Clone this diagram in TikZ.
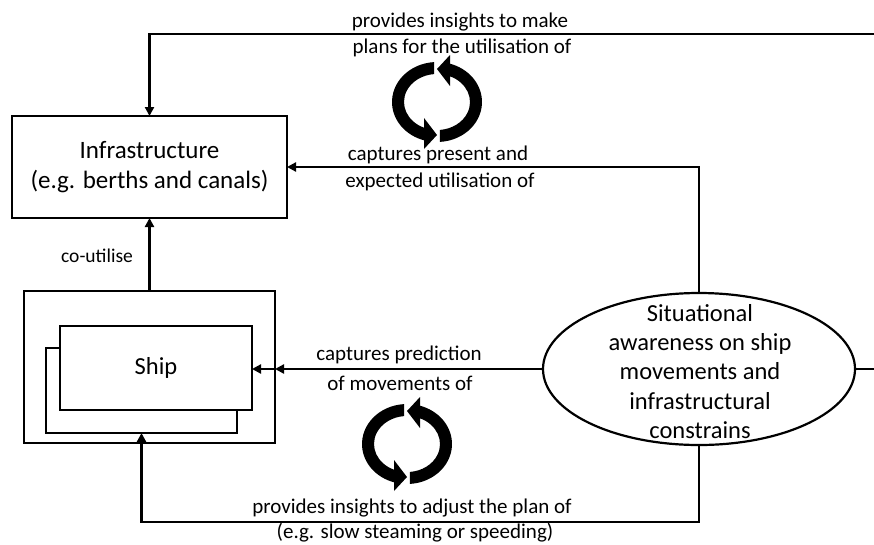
\documentclass[tikz,border=0pt]{standalone}
\usepackage{fontspec}
\setmainfont{Carlito}
\usetikzlibrary{arrows.meta,shapes.geometric}
\tikzset{
  box/.style={draw, line width=2.2pt, fill=white, inner sep=0pt, outer sep=0pt},
  conn/.style={line width=2.2pt},
  arr/.style={conn, -{Triangle[length=9pt,width=9pt]}},
  lbl/.style={font=\fontsize{21}{25}\selectfont, inner sep=0pt, align=center},
  big/.style={font=\fontsize{25}{30.5}\selectfont, align=center},
  halfcyc/.pic={
    \fill (-2.98,-39.9) arc[start angle=-93.8, end angle=-253.2, x radius=45, y radius=40]
      -- (-13,47) -- (0,33) -- (-13,16) -- (-13,25.7)
      arc[start angle=-246.8, end angle=-95.2, x radius=33, y radius=28] -- cycle;
  },
  cyc/.pic={
    \pic {halfcyc};
    \pic[rotate=180] {halfcyc};
  }
}
\begin{document}
\begin{tikzpicture}[x=1pt,y=-1pt]
\useasboundingbox (0,0) rectangle (874,544);

% nodes
\node[box, big, minimum width=275pt, minimum height=102pt] (infra) at (149.5,167)
  {Infrastructure\\(e.g. berths and canals)};
\node[box, minimum width=251pt, minimum height=152pt] (outer) at (149.5,367) {};
\node[box, minimum width=191pt, minimum height=85pt] (back) at (141.5,390.5) {};
\node[box, big, font=\fontsize{24.5}{29.5}\selectfont, minimum width=192pt, minimum height=84pt] (front) at (156,368) {Ship};
\node[ellipse, draw, line width=2.2pt, fill=white, minimum width=312pt, minimum height=152pt, inner sep=0pt, outer sep=0pt] (ell) at (699,369) {};
\node[font=\fontsize{24.5}{29.3}\selectfont, align=center, inner sep=0pt] (elltext) at (700,371.5)
  {Situational\\awareness on ship\\movements and\\infrastructural\\constrains};

% connector corner coordinates
\coordinate (tr) at (885,34);
\coordinate (br) at (885,369);
\coordinate (bot) at (700,522);

% connectors
\draw[arr] (ell.east) -- (br) -- (tr) -- (infra.north |- tr) -- (infra.north);
\draw[arr] (ell.north) -- (ell.north |- infra.east) -- (infra.east);
\coordinate (oe) at (outer.east |- ell.west);
\draw[arr] (ell.west) -- (oe);
\draw[arr] (oe) -- (front.east |- ell.west);
\draw[arr] (ell.south) -- (ell.south |- bot) -- (back.south |- bot) -- (back.south);
\draw[arr] (outer.north) -- (infra.south);

% labels
\node[lbl] (l1) at (460,22) {provides insights to make};
\node[lbl] (l2) at (462,48) {plans for the utilisation of};
\node[lbl] (l3) at (438,155) {captures present and};
\node[lbl] (l4) at (440,182) {expected utilisation of};
\node[lbl] (l5) at (399,355) {captures prediction};
\node[lbl] (l6) at (400,383) {of movements of};
\node[lbl] (l7) at (412,508) {provides insights to adjust the plan of};
\node[lbl] (l8) at (415,532.5) {(e.g. slow steaming or speeding)};
\node[lbl, font=\fontsize{19.5}{23}\selectfont] (l9) at (97,256) {co-utilise};

% cycle icons
\pic at (437,102) {cyc};
\pic at (407,444) {cyc};
\end{tikzpicture}
\end{document}
